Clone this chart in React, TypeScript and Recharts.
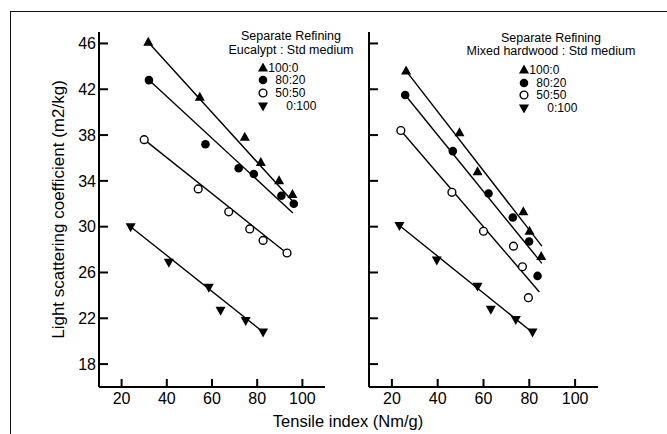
import React from 'react';
import { Scatter, ScatterChart, XAxis, YAxis } from 'recharts';

// mixing ratios (hardwood : std medium)
const ratios = ['100:0', '80:20', '50:50', '0:100'];
const xTicks = [20, 40, 60, 80, 100];
const yTicks = [18, 22, 26, 30, 34, 38, 42, 46];

// left panel: Eucalypt : Std medium  (t = tensile index, s = light scattering)
const euc100 = [
  { t: 31.8, s: 46.1 }, { t: 54.6, s: 41.3 }, { t: 74.5, s: 37.8 },
  { t: 81.6, s: 35.6 }, { t: 89.7, s: 34.0 }, { t: 95.6, s: 32.8 },
];
const euc80 = [
  { t: 32.1, s: 42.8 }, { t: 57.1, s: 37.2 }, { t: 71.8, s: 35.1 },
  { t: 78.5, s: 34.6 }, { t: 90.7, s: 32.7 }, { t: 96.2, s: 32.0 },
];
const euc50 = [
  { t: 30.0, s: 37.6 }, { t: 53.9, s: 33.3 }, { t: 67.4, s: 31.3 },
  { t: 76.7, s: 29.8 }, { t: 82.6, s: 28.8 }, { t: 93.2, s: 27.7 },
];
const euc0 = [
  { t: 24.0, s: 30.0 }, { t: 40.9, s: 26.9 }, { t: 58.6, s: 24.7 },
  { t: 63.8, s: 22.7 }, { t: 74.9, s: 21.8 }, { t: 82.6, s: 20.8 },
];
const eucFit100 = [{ t: 31.8, s: 46.1 }, { t: 95.8, s: 32.2 }];
const eucFit80 = [{ t: 32.1, s: 42.8 }, { t: 95.8, s: 31.2 }];
const eucFit50 = [{ t: 30.0, s: 37.6 }, { t: 93.0, s: 27.7 }];
const eucFit0 = [{ t: 24.0, s: 30.0 }, { t: 82.6, s: 20.8 }];

// right panel: Mixed hardwood : Std medium
const mix100 = [
  { t: 26.2, s: 43.6 }, { t: 49.5, s: 38.2 }, { t: 57.4, s: 34.8 },
  { t: 77.4, s: 31.3 }, { t: 80.1, s: 29.6 }, { t: 85.2, s: 27.4 },
];
const mix80 = [
  { t: 25.8, s: 41.5 }, { t: 46.6, s: 36.6 }, { t: 62.2, s: 32.9 },
  { t: 72.8, s: 30.8 }, { t: 79.9, s: 28.7 }, { t: 83.6, s: 25.7 },
];
const mix50 = [
  { t: 23.9, s: 38.4 }, { t: 46.2, s: 33.0 }, { t: 60.0, s: 29.6 },
  { t: 73.1, s: 28.3 }, { t: 77.0, s: 26.5 }, { t: 79.6, s: 23.8 },
];
const mix0 = [
  { t: 23.3, s: 30.1 }, { t: 39.6, s: 27.1 }, { t: 57.4, s: 24.8 },
  { t: 63.2, s: 22.8 }, { t: 74.1, s: 21.9 }, { t: 81.4, s: 20.8 },
];
const mixFit100 = [{ t: 26.2, s: 43.6 }, { t: 85.5, s: 28.3 }];
const mixFit80 = [{ t: 25.8, s: 41.5 }, { t: 85.5, s: 26.8 }];
const mixFit50 = [{ t: 23.9, s: 38.4 }, { t: 84.4, s: 24.3 }];
const mixFit0 = [{ t: 23.3, s: 30.1 }, { t: 81.8, s: 20.7 }];

const FONT = '"Liberation Sans", Arial, Helvetica, sans-serif';
const PLOT_TOP = 32;
const PLOT_BOTTOM = 387;

const UpTri = (p: any) => (
  <polygon points={`${p.cx},${p.cy - 5.5} ${p.cx + 5},${p.cy + 3.5} ${p.cx - 5},${p.cy + 3.5}`} fill="#000" />
);
const DownTri = (p: any) => (
  <polygon points={`${p.cx - 5},${p.cy - 3.5} ${p.cx + 5},${p.cy - 3.5} ${p.cx},${p.cy + 5.5}`} fill="#000" />
);
const Dot = (p: any) => <circle cx={p.cx} cy={p.cy} r={4.3} fill="#000" />;
const Ring = (p: any) => <circle cx={p.cx} cy={p.cy} r={3.9} fill="#fff" stroke="#000" strokeWidth={1.4} />;
const NoMark = () => <g />;

const shapes = [UpTri, Dot, Ring, DownTri];

// inward tick stubs; the tick position comes from the axis scale (payload.coordinate)
const YTick = (props: any) => {
  const y = props.payload?.coordinate ?? Number(props.y);
  const ax = props.axisX;
  return (
    <g>
      <rect x={ax} y={y - 1} width={9} height={2} fill="#000" />
      {props.showLabel && (
        <text x={ax - 3} y={y} dy="0.355em" textAnchor="end" fontSize={16} fill="#000" fontFamily={FONT}>
          {props.payload.value}
        </text>
      )}
    </g>
  );
};
const XTick = (props: any) => {
  const x = props.payload?.coordinate ?? Number(props.x);
  return (
    <g>
      <rect x={x - 1} y={PLOT_BOTTOM - 8} width={2} height={8} fill="#000" />
      <text x={x} y={PLOT_BOTTOM + 6} dy="0.71em" textAnchor="middle" fontSize={16} fill="#000" fontFamily={FONT}>
        {props.payload.value}
      </text>
    </g>
  );
};

const Panel = ({ left, width, plotLeft, plotRight, yAxisWidth, showLabels, series, fits }: any) => (
  <div style={{ position: 'absolute', left, top: 0 }}>
    <ScatterChart
      width={width}
      height={434}
      margin={{ top: PLOT_TOP, right: width - plotRight, bottom: 434 - PLOT_BOTTOM - 30, left: plotLeft - yAxisWidth }}
    >
      <XAxis
        type="number"
        dataKey="t"
        domain={[10, 110]}
        ticks={xTicks}
        height={30}
        axisLine={{ stroke: '#000', strokeWidth: 2 }}
        tickLine={false}
        tick={(p: any) => <XTick {...p} />}
      />
      <YAxis
        type="number"
        dataKey="s"
        domain={[16, 47]}
        ticks={yTicks}
        width={yAxisWidth}
        axisLine={{ stroke: '#000', strokeWidth: 2 }}
        tickLine={false}
        tick={(p: any) => <YTick {...p} axisX={plotLeft} showLabel={showLabels} />}
        label={
          showLabels
            ? {
                value: 'Light scattering coefficient (m2/kg)',
                angle: -90,
                position: 'insideLeft',
                offset: 19,
                style: { textAnchor: 'middle', fontSize: 17, fill: '#000', fontFamily: FONT },
              }
            : undefined
        }
      />
      {fits.map((f: any, i: number) => (
        <Scatter
          key={'fit' + i}
          data={f}
          line={{ stroke: '#000', strokeWidth: 1.4 }}
          shape={NoMark}
          isAnimationActive={false}
        />
      ))}
      {series.map((s: any, i: number) => (
        <Scatter key={ratios[i]} name={ratios[i]} data={s} shape={shapes[i]} isAnimationActive={false} />
      ))}
    </ScatterChart>
  </div>
);

const legendIndent = [0, 7, 7, 18];

const LegendBlock = ({ cx, top, title, markX, rowTop }: any) => (
  <>
    <div
      style={{
        position: 'absolute', left: cx - 100, top, width: 200, textAlign: 'center',
        fontSize: 12.5, lineHeight: '13.5px', color: '#000', fontFamily: FONT,
      }}
    >
      <div>Separate Refining</div>
      <div>{title}</div>
    </div>
    {ratios.map((r, i) => {
      const Mark = shapes[i];
      const y = rowTop + i * 12.6;
      return (
        <React.Fragment key={r}>
          <svg style={{ position: 'absolute', left: markX - 6, top: y - 6 }} width={12} height={12}>
            <Mark cx={6} cy={6} />
          </svg>
          <div
            style={{
              position: 'absolute', left: markX + 5 + legendIndent[i], top: y - 6,
              fontSize: 12, lineHeight: '12px', color: '#000', fontFamily: FONT,
            }}
          >
            {r}
          </div>
        </React.Fragment>
      );
    })}
  </>
);

export default function App() {
  return (
    <div
      style={{
        position: 'absolute', left: 0, top: 0, width: 667, height: 434,
        overflow: 'hidden', background: '#fff', fontFamily: FONT,
      }}
    >
      <div
        style={{
          position: 'absolute', left: 10, top: 11, width: 700, height: 460,
          borderTop: '1.5px solid #111', borderLeft: '1.5px solid #111',
        }}
      />
      <Panel
        left={0}
        width={340}
        plotLeft={99}
        plotRight={325}
        yAxisWidth={60}
        showLabels
        series={[euc100, euc80, euc50, euc0]}
        fits={[eucFit100, eucFit80, eucFit50, eucFit0]}
      />
      <Panel
        left={340}
        width={327}
        plotLeft={29}
        plotRight={258}
        yAxisWidth={20}
        showLabels={false}
        series={[mix100, mix80, mix50, mix0]}
        fits={[mixFit100, mixFit80, mixFit50, mixFit0]}
      />
      <LegendBlock cx={291} top={30} title="Eucalypt : Std medium" markX={263.3} rowTop={67.7} />
      <LegendBlock cx={551} top={31.5} title="Mixed hardwood : Std medium" markX={524.3} rowTop={70} />
      <div
        style={{
          position: 'absolute', left: 198, top: 412, width: 300, textAlign: 'center',
          fontSize: 16.5, lineHeight: '19px', color: '#000',
        }}
      >
        Tensile index (Nm/g)
      </div>
    </div>
  );
}
